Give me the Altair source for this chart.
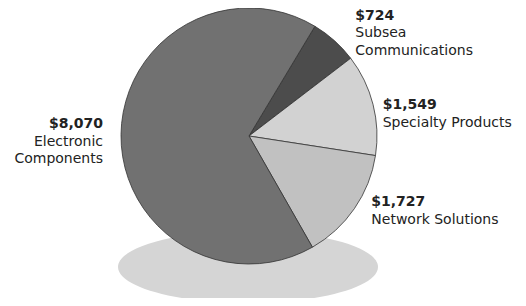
import math
import altair as alt
import pandas as pd

# ---- data -------------------------------------------------------------
categories = ["Subsea Communications", "Specialty Products",
              "Network Solutions", "Electronic Components"]
values = [724, 1549, 1727, 8070]
value_labels = ["$724", "$1,549", "$1,727", "$8,070"]
name_labels = ["Subsea\nCommunications", "Specialty Products",
               "Network Solutions", "Electronic\nComponents"]
slice_colors = ["#4c4c4c", "#d2d2d2", "#c1c1c1", "#717171"]

df = pd.DataFrame({
    "category": categories,
    "value": values,
    "order": list(range(len(categories))),
    "value_label": value_labels,
    "name_label": name_labels,
})

# ---- layout / style ---------------------------------------------------
FONT = "DejaVu Sans"
FS = 14
LH = 17.5
CX, CY, R = 241, 128, 128
START = math.radians(31)
LABEL_R = 140
# per-label nudges: (dx, dy, align)
nudges = {
    "Subsea Communications": (13, -12, "left"),
    "Specialty Products": (-2, 8, "left"),
    "Network Solutions": (7, -9, "left"),
    "Electronic Components": (-6, -6, "right"),
}

theta_scale = alt.Scale(range=[START, START + 2 * math.pi])

base = alt.Chart(df).encode(
    theta=alt.Theta("value:Q", stack=True, scale=theta_scale),
    order=alt.Order("order:Q"),
    x=alt.value(CX),
    y=alt.value(CY),
)

pie = base.mark_arc(outerRadius=R, stroke="#333333", strokeWidth=0.8).encode(
    color=alt.Color("category:N",
                    scale=alt.Scale(domain=categories, range=slice_colors),
                    legend=None)
)

ELLIPSE = "M -1 0 A 1 0.277 0 1 1 1 0 A 1 0.277 0 1 1 -1 0 Z"
shadow = alt.Chart(pd.DataFrame({"s": [0]})).mark_point(
    shape=ELLIPSE, filled=True, fill="#d5d5d5", opacity=1,
    strokeWidth=0, size=260 * 260,
).encode(x=alt.value(240), y=alt.value(259))

layers = [shadow, pie]
for cat in categories:
    dx, dy, align = nudges[cat]
    cond = f"datum.category === '{cat}'"
    bold = base.mark_text(
        radius=LABEL_R, align=align, baseline="alphabetic", dx=dx, dy=dy,
        font=FONT, fontSize=FS, fontWeight="bold", color="#222222",
    ).encode(
        text=alt.condition(cond, alt.Text("value_label:N"), alt.value("")),
        detail="category:N",
    )
    name = base.mark_text(
        radius=LABEL_R, align=align, baseline="alphabetic", dx=dx, dy=dy + LH,
        font=FONT, fontSize=FS, color="#222222", lineHeight=LH,
        lineBreak="\n",
    ).encode(
        text=alt.condition(cond, alt.Text("name_label:N"), alt.value("")),
        detail="category:N",
    )
    layers += [bold, name]

chart = alt.layer(*layers).properties(
    width=510, height=290, padding=0,
    autosize=alt.AutoSizeParams(type="none"),
).configure_view(stroke=None)

chart.save("out.html", embed_options={"renderer": "svg", "actions": False})
